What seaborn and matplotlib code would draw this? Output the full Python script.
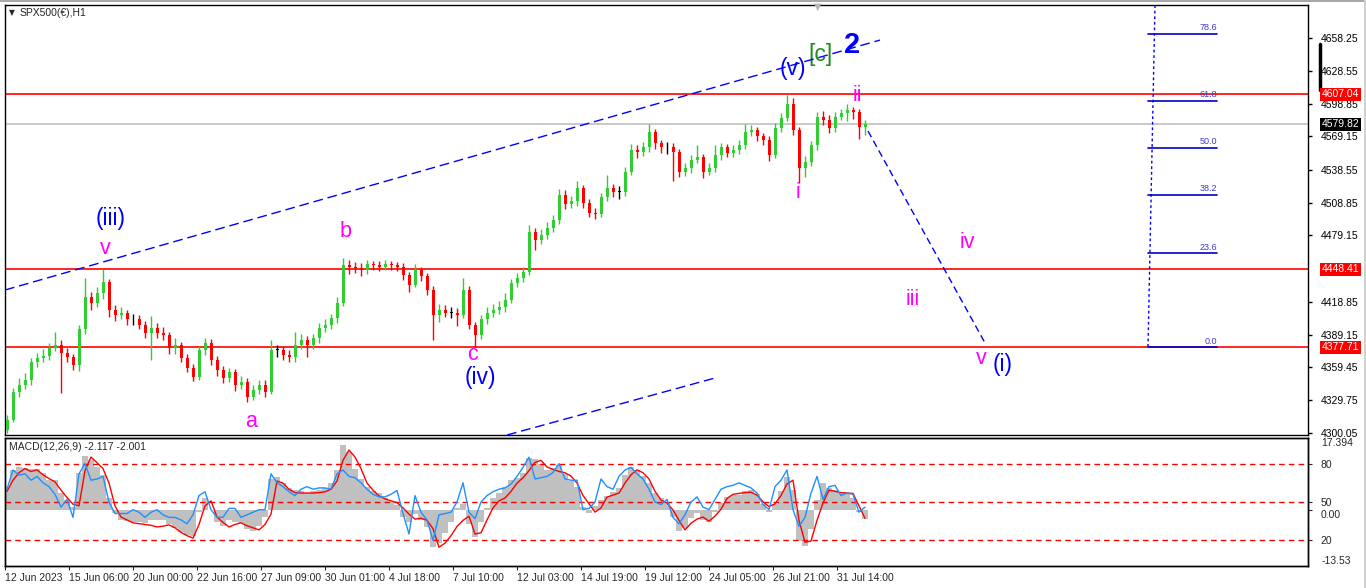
import numpy as np
import matplotlib
matplotlib.use('Agg')
import matplotlib.pyplot as plt
import matplotlib.transforms as mtransforms
from matplotlib.patches import Rectangle
import seaborn as sns

# ---- price data (6-hour steps) ----
first_open = 4303
closes = [4312, 4337, 4344, 4348, 4364, 4368, 4370, 4377, 4380, 4373,
          4369, 4362, 4394, 4423, 4418, 4427, 4437, 4412, 4407, 4409,
          4403, 4403, 4398, 4391, 4395, 4391, 4389, 4377, 4380, 4368,
          4359, 4351, 4375, 4382, 4366, 4357, 4350, 4355, 4344, 4346,
          4333, 4339, 4344, 4337, 4375, 4375, 4371, 4369, 4380, 4384,
          4380, 4386, 4395, 4398, 4404, 4418, 4452, 4451, 4450, 4448,
          4453, 4452, 4451, 4453, 4452, 4451, 4443, 4434, 4448, 4442,
          4430, 4407, 4412, 4409, 4409, 4407, 4430, 4398, 4389, 4403,
          4409, 4412, 4414, 4421, 4436, 4441, 4446, 4482, 4475, 4480,
          4486, 4493, 4516, 4508, 4510, 4522, 4509, 4500, 4499, 4514,
          4522, 4519, 4519, 4537, 4557, 4555, 4559, 4573, 4563, 4559,
          4559, 4555, 4537, 4540, 4548, 4550, 4537, 4540, 4552, 4559,
          4554, 4557, 4561, 4573, 4575, 4569, 4566, 4552, 4577, 4586,
          4598, 4575, 4540, 4546, 4561, 4587, 4584, 4577, 4587, 4590,
          4593, 4591, 4578, 4579.82]
highs = [4316, 4341, 4350, 4354, 4368, 4373, 4376, 4382, 4392, 4384,
         4377, 4372, 4398, 4441, 4428, 4432, 4449, 4440, 4416, 4414,
         4412, 4408, 4407, 4402, 4406, 4400, 4396, 4392, 4386, 4383,
         4372, 4363, 4379, 4386, 4385, 4370, 4361, 4359, 4358, 4352,
         4350, 4344, 4348, 4348, 4384, 4380, 4379, 4375, 4392, 4390,
         4388, 4390, 4400, 4403, 4408, 4423, 4459, 4457, 4455, 4454,
         4457, 4456, 4456, 4457, 4456, 4455, 4454, 4446, 4453, 4451,
         4445, 4433, 4417, 4416, 4414, 4413, 4441, 4433, 4401, 4407,
         4414, 4417, 4420, 4427, 4440, 4445, 4451, 4489, 4486, 4485,
         4491, 4498, 4521, 4520, 4515, 4529, 4525, 4512, 4504, 4518,
         4534, 4526, 4524, 4541, 4562, 4561, 4564, 4580, 4576, 4566,
         4564, 4563, 4558, 4545, 4552, 4561, 4553, 4545, 4561, 4563,
         4562, 4561, 4566, 4580, 4579, 4578, 4572, 4569, 4581, 4590,
         4607, 4604, 4578, 4551, 4565, 4591, 4592, 4588, 4591, 4594,
         4598, 4596, 4594, 4584]
lows = [4300, 4310, 4333, 4340, 4344, 4360, 4364, 4366, 4374, 4336,
        4364, 4357, 4356, 4390, 4412, 4414, 4422, 4405, 4402, 4403,
        4398, 4398, 4394, 4386, 4366, 4386, 4384, 4372, 4372, 4364,
        4355, 4347, 4348, 4371, 4362, 4352, 4345, 4346, 4338, 4340,
        4328, 4330, 4335, 4333, 4335, 4369, 4366, 4364, 4364, 4376,
        4369, 4376, 4382, 4392, 4394, 4400, 4415, 4444, 4445, 4442,
        4444, 4448, 4447, 4448, 4448, 4447, 4439, 4428, 4432, 4438,
        4425, 4384, 4401, 4405, 4404, 4397, 4404, 4394, 4378, 4385,
        4399, 4405, 4408, 4410, 4418, 4432, 4437, 4443, 4466, 4471,
        4476, 4482, 4490, 4503, 4504, 4506, 4504, 4496, 4494, 4496,
        4510, 4514, 4512, 4515, 4534, 4549, 4551, 4555, 4558, 4554,
        4553, 4529, 4532, 4533, 4536, 4545, 4531, 4534, 4537, 4548,
        4550, 4550, 4553, 4558, 4569, 4565, 4561, 4547, 4549, 4573,
        4583, 4570, 4527, 4532, 4542, 4557, 4579, 4572, 4573, 4584,
        4583, 4585, 4567, 4570]

# ---- indicator panel ----
macd_hist = [5.5, 9.7, 10.4, 10.2, 9.8, 10.0, 9.0, 7.2, 7.2, 4.0,
             2.4, 0.8, 9.0, 13.0, 12.0, 10.5, 8.5, 3.0, -0.7, -2.4,
             -2.7, -2.9, -3.0, -3.1, -2.5, -2.4, -2.4, -3.5, -4.3, -5.4,
             -6.0, -6.3, -0.5, 3.0, 0.0, -3.0, -3.8, -2.5, -3.0, -3.2,
             -4.5, -5.0, -3.8, -1.7, 7.5, 8.0, 6.5, 5.4, 4.9, 4.5,
             4.1, 4.5, 4.9, 5.3, 6.5, 9.7, 15.7, 14.0, 10.0, 7.5,
             5.6, 4.5, 4.0, 2.8, 2.0, 1.2, -1.7, -3.0, -1.0, -2.5,
             -4.1, -9.0, -8.0, -5.5, -3.0, 0.5, 1.5, -3.5, -6.5, -3.0,
             0.5, 3.0, 4.1, 5.5, 7.2, 7.8, 9.0, 12.6, 12.4, 11.0,
             9.7, 10.2, 10.9, 8.7, 7.0, 5.6, 0.7, -0.7, 1.0, 2.4,
             3.5, 4.4, 5.3, 8.5, 10.4, 9.7, 8.2, 6.5, 4.0, 2.8,
             1.9, -1.7, -5.0, -4.4, -2.0, -0.7, -2.4, -2.9, -0.5, 1.7,
             3.2, 3.6, 3.6, 4.5, 4.8, 3.8, 1.5, -0.5, 1.5, 4.5,
             8.0, 4.8, -7.5, -8.8, -4.5, 2.4, 6.5, 5.4, 4.8, 4.4,
             4.2, 3.0, -0.5, -2.117]
macd_signal = [4.5, 7.2, 9.0, 10.0, 9.3, 9.7, 8.5, 7.6, 6.8, 4.8,
               3.0, 1.4, 1.0, 9.5, 12.8, 11.4, 10.0, 6.5, 1.0, -1.7,
               -2.4, -3.1, -3.3, -3.5, -3.7, -4.1, -3.9, -3.6, -4.3, -5.4,
               -6.2, -6.8, -3.5, 1.0, 2.2, -1.7, -3.0, -4.1, -3.5, -3.1,
               -3.8, -4.3, -4.8, -3.5, -1.0, 7.0, 6.5, 5.0, 4.2, 4.1,
               4.1, 4.1, 4.2, 4.4, 5.0, 7.0, 12.0, 14.5, 12.8, 10.0,
               6.5, 4.8, 3.4, 2.7, 2.2, 1.8, 0.5, -1.0, -2.2, -2.0,
               -2.5, -4.5, -9.0, -8.0, -6.2, -4.0, -2.5, -1.5, -5.8, -5.5,
               -2.4, 0.5, 2.2, 2.9, 4.5, 6.5, 7.8, 9.5, 11.5, 12.0,
               10.4, 9.8, 9.3, 9.0, 8.2, 6.5, 3.5, 1.5, -0.5, 0.5,
               3.1, 3.6, 4.1, 6.5, 8.5, 9.7, 9.0, 7.5, 4.5, 2.4,
               1.7, 0.0, -2.5, -4.8, -3.2, -2.2, -1.7, -2.7, -1.5, 0.2,
               2.8, 3.8, 4.0, 4.2, 4.3, 3.6, 2.0, 0.8, 1.5, 3.5,
               6.3, 7.2, -2.5, -7.8, -7.5, -2.5, 1.7, 4.8, 4.5, 4.2,
               4.1, 4.0, 1.0, -2.001]
osc_blue = [60, 75, 71, 72, 67, 70, 65, 62, 56, 46,
            52, 38, 72, 80, 67, 68, 70, 50, 41, 41,
            41, 44, 42, 38, 42, 44, 40, 38, 38, 36,
            33, 40, 55, 58, 44, 38, 38, 45, 45, 38,
            40, 42, 44, 44, 72, 65, 62, 58, 55, 60,
            62, 60, 61, 61, 60, 72, 75, 70, 69, 65,
            60, 56, 54, 54, 56, 59, 41, 25, 55, 42,
            36, 20, 40, 41, 42, 50, 65, 42, 37, 50,
            55, 58, 60, 61, 64, 70, 77, 85, 68, 69,
            70, 73, 80, 68, 67, 67, 44, 45, 50, 68,
            62, 60, 70, 75, 77, 72, 68, 60, 50, 48,
            52, 38, 33, 40, 50, 54, 46, 44, 52, 60,
            62, 63, 65, 63, 61, 57, 48, 44, 62, 67,
            75, 44, 31, 38, 57, 70, 52, 62, 63, 55,
            57, 56, 42, 46]
osc_levels = [20, 50, 80]

# ---- axis labels / levels ----
time_labels = ['12 Jun 2023', '15 Jun 06:00', '20 Jun 00:00', '22 Jun 16:00',
               '27 Jun 09:00', '30 Jun 01:00', '4 Jul 18:00', '7 Jul 10:00',
               '12 Jul 03:00', '14 Jul 19:00', '19 Jul 12:00', '24 Jul 05:00',
               '26 Jul 21:00', '31 Jul 14:00']
price_ticks = [4658.25, 4628.55, 4598.85, 4569.15, 4538.55, 4508.85, 4479.15,
               4418.85, 4389.15, 4359.45, 4329.75, 4300.05]
red_levels = [4607.04, 4448.41, 4377.71]
last_price = 4579.82
fib_levels = [0.0, 23.6, 38.2, 50.0, 61.8, 78.6]
fib_low, fib_high = 4377.71, 4739.2

upper_channel = ([0, 875], [4429.7, 4656.4])
lower_channel = ([502, 710], [4298.2, 4349.9])
projection = ([863, 980], [4573.9, 4381.7])

wave_labels = [  # text, bar-index, price, colour, size
    ('(iii)', 106, 4495, 'blue', 16.5), ('v', 100, 4467, 'magenta', 15.5),
    ('b', 341, 4483, 'magenta', 15.5), ('a', 246, 4310, 'magenta', 15.5),
    ('c', 467, 4371, 'magenta', 15.5), ('(iv)', 475, 4350, 'blue', 16.5),
    ('(v)', 788, 4631, 'blue', 16.5), ('[c]', 816, 4643, '#228b22', 16.5),
    ('ii', 852, 4606, 'magenta', 15.5), ('i', 793, 4518, 'magenta', 15.5),
    ('iv', 962, 4473, 'magenta', 15.5), ('iii', 908, 4421, 'magenta', 15.5),
    ('v', 976, 4368, 'magenta', 15.5), ('(i)', 998, 4362, 'blue', 16.5),
]

sns.set_style('white')
plt.rcParams['font.family'] = ['Liberation Sans', 'DejaVu Sans']
FS = 7.5

W, H = 1366, 588
fig = plt.figure(figsize=(W / 100, H / 100), dpi=100)


def box(x0, y0, x1, y1):
    return [x0 / W, 1 - y1 / H, (x1 - x0) / W, (y1 - y0) / H]


ax = fig.add_axes(box(5, 5, 1308, 435))
axm = fig.add_axes(box(5, 438, 1308, 566))

o = np.r_[first_open, closes[:-1]].astype(float)
c = np.array(closes, dtype=float)
xs = 2 + 6 * np.arange(len(c))
cols = np.where(c > o, '#32cd32', np.where(c < o, '#ff0000', '#000000'))

ax.vlines(xs, lows, highs, colors=cols, lw=1, zorder=3)
ax.bar(xs, np.maximum(np.abs(c - o), 0.8), bottom=np.minimum(o, c), width=3,
       color=cols, linewidth=0, zorder=3)

for lv in red_levels:
    ax.axhline(lv, color='red', lw=1.2, zorder=2)
ax.axhline(last_price, color='#c0c0c0', lw=1.2, zorder=1)

dash = (0, (7, 3.5))
ax.plot(*upper_channel, color='blue', lw=1, ls=dash, zorder=4)
ax.plot(*lower_channel, color='blue', lw=1, ls=dash, zorder=4)
ax.plot(*projection, color='blue', lw=1, ls=(0, (5, 3)), zorder=4)

# fibonacci retracement
ax.plot([1150, 1143], [4688, fib_low], color='blue', lw=1, ls=(0, (2, 2)))
for f in fib_levels:
    p = fib_low + (fib_high - fib_low) * f / 100
    ax.plot([1143, 1212], [p, p], color='#0000cc', lw=1.2)
    ax.text(1212, p + 1.5, f'{f:.1f}', color='#3a3acc', fontsize=6.5,
            ha='right', va='bottom')

for txt, xi, pr, col, sz in wave_labels:
    ax.text(xi, pr, txt, color=col, fontsize=sz, ha='center', va='center')
ax.text(847, 4652, '2', color='blue', fontsize=21, fontweight='bold',
        ha='center', va='center')

ax.set_xlim(0, 1303)
ax.set_ylim(4298.2, 4688.2)
ax.yaxis.tick_right()
ax.set_yticks(price_ticks)
ax.set_yticklabels([f'{t:.2f}' for t in price_ticks])
ax.tick_params(axis='y', length=3, width=1, pad=6, labelsize=FS, colors='black',
               right=True, direction='out')
ax.tick_params(axis='x', bottom=False, labelbottom=False)

tr = mtransforms.blended_transform_factory(ax.transAxes, ax.transData)
for lv in red_levels:
    ax.text(1.0105, lv, f'{lv:.2f}', transform=tr, color='white', fontsize=FS,
            ha='left', va='center',
            bbox=dict(boxstyle='square,pad=0.15', fc='red', ec='none'))
ax.text(1.0105, last_price, f'{last_price:.2f}', transform=tr, color='white',
        fontsize=FS, ha='left', va='center',
        bbox=dict(boxstyle='square,pad=0.15', fc='black', ec='none'))
ax.plot([1.0095, 1.0095], [4653, 4611], transform=tr, color='black', lw=2.5,
        clip_on=False)

# ---- MACD panel ----
axm.bar(xs, macd_hist, width=6, color='#c0c0c0', linewidth=0, zorder=1)
sns.lineplot(x=xs, y=macd_signal, ax=axm, color='red', lw=1, legend=False, zorder=3)
axm.set_xlim(0, 1303)
axm.set_ylim(-13.53, 17.394)
axm.set_ylabel('')

axo = axm.twinx()
sns.lineplot(x=xs, y=osc_blue, ax=axo, color='#1e90ff', lw=1, legend=False, zorder=4)
for lv in osc_levels:
    axo.axhline(lv, color='red', lw=1, ls=(0, (4, 3)))
axo.set_ylim(0, 100)
axo.set_yticks(osc_levels)
axo.set_yticklabels([str(v) for v in osc_levels])
axo.tick_params(axis='y', length=3, pad=6, labelsize=FS)
axo.set_ylabel('')

axm.yaxis.tick_right()
axm.set_yticks([0])
axm.set_yticklabels(['0.00'])
axm.tick_params(axis='y', length=3, pad=6, labelsize=FS, right=True, left=False,
                labelleft=False, labelright=True)
for lab in axm.get_yticklabels():
    lab.set_va('top')

trm = mtransforms.blended_transform_factory(axm.transAxes, axm.transData)
axm.text(1.0105, 17.394, '17.394', transform=trm, fontsize=FS, ha='left', va='top')
axm.text(1.0105, -13.53, '-13.53', transform=trm, fontsize=FS, ha='left',
         va='bottom')
axm.text(0.003, 0.93, 'MACD(12,26,9) -2.117 -2.001', transform=axm.transAxes,
         fontsize=FS, ha='left', va='center')

axm.set_xticks(64 * np.arange(len(time_labels)))
axm.set_xticklabels(time_labels, ha='left', fontsize=FS)
axm.tick_params(axis='x', length=3, pad=2, bottom=True, direction='out')

for a in (ax, axm, axo):
    for s in a.spines.values():
        s.set_color('black')
        s.set_linewidth(1)

fig.text(12 / W, 1 - 13 / H, '\u25bc', fontsize=5.5, ha='center', va='center',
         family='DejaVu Sans')
fig.text(20 / W, 1 - 13 / H, 'SPX500(\u20ac),H1', fontsize=FS, ha='left',
         va='center')
fig.text(818 / W, 1 - 7 / H, '\u25bc', fontsize=7, color='#b8b8b8', ha='center',
         va='center', family='DejaVu Sans')
fig.add_artist(Rectangle((0, 1 - 2 / H), 1, 2 / H, transform=fig.transFigure,
                         color='#a8a8a8', lw=0))
fig.add_artist(Rectangle((1 - 2 / W, 0), 2 / W, 1, transform=fig.transFigure,
                         color='#d0d0d0', lw=0))

fig.savefig('out.png', dpi=100)
